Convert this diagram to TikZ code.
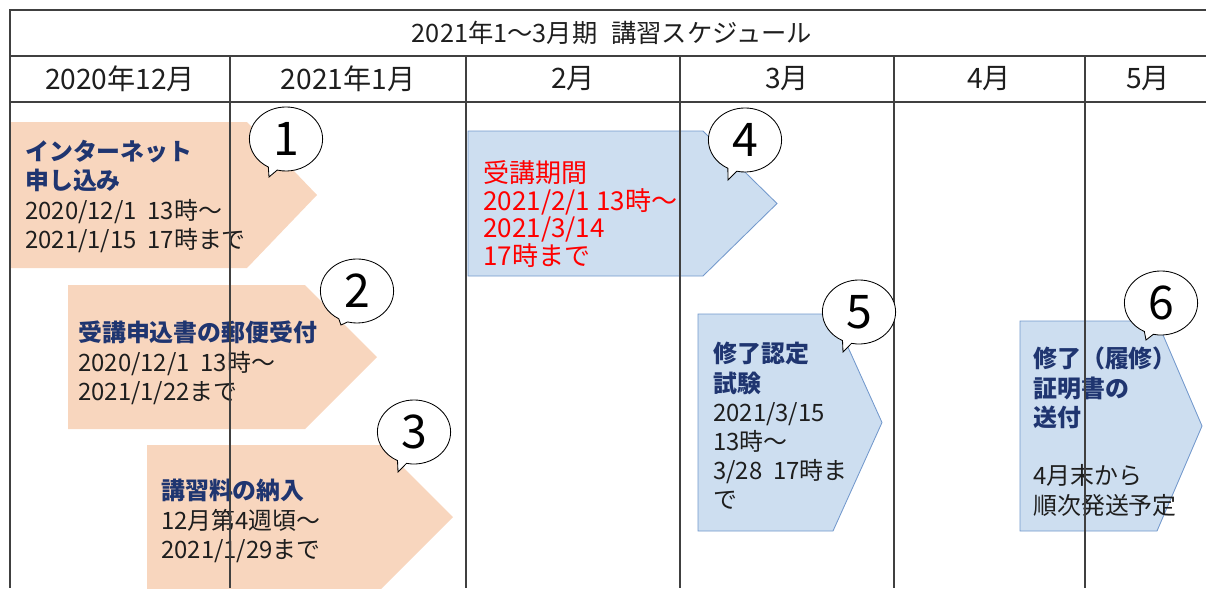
\documentclass[tikz,border=0pt]{standalone}
\usepackage{fontspec}
\setmainfont{Noto Sans CJK JP}
\usetikzlibrary{shapes.callouts}

\definecolor{peach}{RGB}{248,214,190}
\definecolor{paleblue}{RGB}{205,222,240}
\definecolor{edgeblue}{RGB}{114,152,204}
\definecolor{navy}{RGB}{31,53,112}
\definecolor{gridgray}{RGB}{64,64,64}
\definecolor{ink}{RGB}{30,30,30}
\newcommand\navyhead[1]{\textcolor{navy}{\bfseries #1}}

\begin{document}
\begin{tikzpicture}[x=0.025cm,y=-0.025cm,
   grid/.style={gridgray,line width=0.9pt},
   peacharrow/.style={fill=peach},
   bluearrow/.style={fill=paleblue,draw=edgeblue,line width=0.6pt},
   note/.style={anchor=north west,align=left,inner sep=0pt,text=ink,
      font=\fontsize{17}{20.8}\selectfont},
   bubble/.style={ellipse callout,draw,fill=white,line width=0.6pt,
      minimum width=1.83cm,minimum height=1.6cm,inner sep=0pt,
      font=\fontsize{33}{33}\selectfont}]
   \useasboundingbox (0,0) rectangle (1206,588);
   % the six period arrows
   \foreach \xa/\xb/\xt/\ya/\yb in {10/247/317/122/268, 68/305/377/285/429, 147/381/453/445/589}
      \fill[peacharrow] (\xa,\ya) -- (\xb,\ya) -- (\xt,{(\ya+\yb)/2}) -- (\xb,\yb) -- (\xa,\yb) -- cycle;
   \foreach \xa/\xb/\xt/\ya/\yb in {468/703/777/131/276, 698/833/882/314/531, 1020/1157/1202/321/531}
      \filldraw[bluearrow] (\xa,\ya) -- (\xb,\ya) -- (\xt,{(\ya+\yb)/2}) -- (\xb,\yb) -- (\xa,\yb) -- cycle;
   % texts in the arrows
   \node[note] (apply) at (25,140)
      {\navyhead{インターネット}\\\navyhead{申し込み}\\2020/12/1\ \ 13時～\\2021/1/15\ \ 17時まで};
   \node[note] (mail) at (78,321)
      {\navyhead{受講申込書の郵便受付}\\2020/12/1\ \ 13時～\\2021/1/22まで};
   \node[note] (fee) at (161,479)
      {\navyhead{講習料の納入}\\12月第4週頃～\\2021/1/29まで};
   \node[note,text=red,font=\fontsize{18.5}{19.8}\selectfont] (period) at (483,160)
      {受講期間\\2021/2/1 13時～\\2021/3/14\\17時まで};
   \node[note] (exam) at (713,342)
      {\navyhead{修了認定}\\\navyhead{試験}\\2021/3/15\\13時～\\3/28\ \ 17時ま\\で};
   \node[note] (cert) at (1033,347)
      {\navyhead{修了（履修）}\\\navyhead{証明書の}\\\navyhead{送付}\\[20.8pt]4月末から\\順次発送予定};
   % table frame
   \draw[grid] (1206,10) -- (10,10) -- (10,588);
   \draw[grid] (10,56) -- (1206,56);
   \draw[grid] (10,102) -- (1206,102);
   \foreach \x in {230,466,680,894,1085}
      \draw[grid] (\x,56) -- (\x,588);
   % title and month headers
   \node[font=\fontsize{18}{20}\selectfont,text=ink] (title) at (612,33)
      {2021年1～3月期\hspace{0.55em}講習スケジュール};
   \foreach \x/\m [count=\i] in {120/2020年12月, 348/2021年1月, 573/2月, 787/3月, 989/4月, 1148/5月}
      \node[font=\fontsize{20}{22}\selectfont,text=ink] (month\i) at (\x,79) {\m};
   % numbered bubbles
   \foreach \n/\cx/\cy/\px/\py in {1/286/139/269/177, 2/357/291/341/325, 3/414/432/398/472,
                                   4/745/140/728/180, 5/859/312/843/352, 6/1161/303/1146/340} {
      \coordinate (tip\n) at (\px,\py);
      \node[bubble,callout absolute pointer={(tip\n)}] (num\n) at (\cx,\cy) {\n};}
\end{tikzpicture}
\end{document}
